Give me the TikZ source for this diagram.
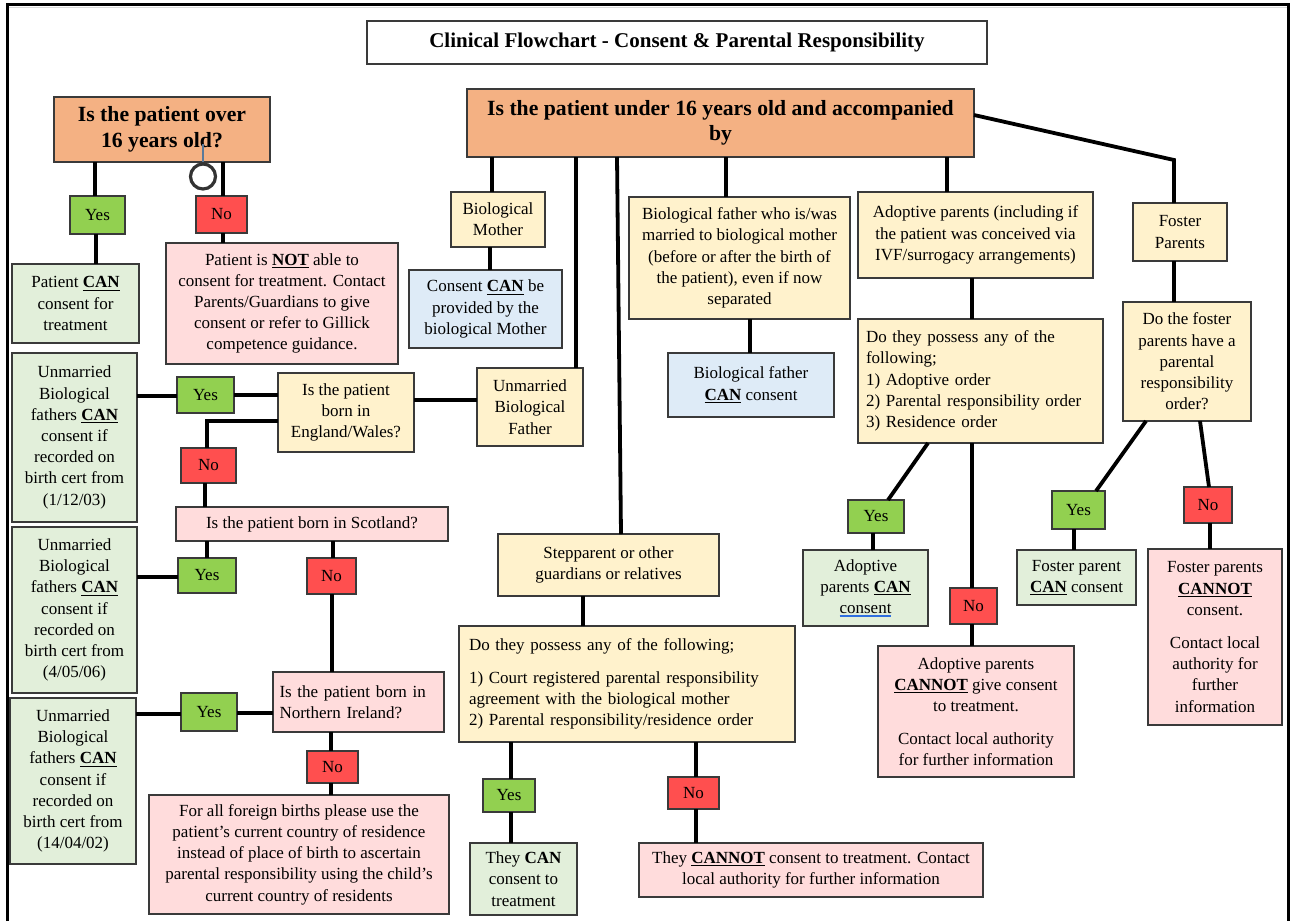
\documentclass[tikz,border=0pt]{standalone}
\usepackage{fontspec}
\setmainfont{Liberation Serif}
\usetikzlibrary{calc}
\definecolor{orangeF}{HTML}{F4B183}
\definecolor{yellowF}{HTML}{FFF2CC}
\definecolor{greenL}{HTML}{E2EFDA}
\definecolor{blueL}{HTML}{DEEBF7}
\definecolor{pinkL}{HTML}{FFDCDC}
\definecolor{greenB}{HTML}{92D050}
\definecolor{redB}{HTML}{FF4F4F}
\definecolor{borderC}{HTML}{3A3A3A}
\definecolor{ulBlue}{HTML}{2F6FE0}
\definecolor{handleC}{HTML}{5A7A9A}
\newcommand\ulwd[2]{\setbox0\hbox{#2}\leavevmode\rlap{\textcolor{#1}{\rule[-2.8pt]{\wd0}{1.1pt}}}\box0}
\newcommand\cn[1]{\textbf{\ulwd{black}{#1}}}
\newcommand\blueul[1]{\ulwd{ulBlue}{#1}}
\newcommand\bodyfont{\fontsize{17}{21.2}\selectfont}
\newcommand\headfont{\fontsize{21.7}{25.5}\selectfont\bfseries}
\newcommand\bx[7]{%
  \pgfmathsetmacro\bxw{#4-#2}%
  \pgfmathsetmacro\bxh{#5-#3}%
  \node[#6, minimum width=\bxw pt, minimum height=\bxh pt, anchor=north west] (#1) at (#2,#3) {#7};}
\tikzset{
  box/.style={draw=borderC, line width=1.3pt, inner xsep=3pt, inner ysep=1pt, align=center, font=\bodyfont, outer sep=0pt},
  qbox/.style={box, fill=orangeF, font=\headfont},
  ybox/.style={box, fill=yellowF},
  gbox/.style={box, fill=greenL},
  bbox/.style={box, fill=blueL},
  pbox/.style={box, fill=pinkL},
  yesbox/.style={box, fill=greenB},
  nobox/.style={box, fill=redB},
  conn/.style={line width=3.8pt, black}
}
\begin{document}
\begin{tikzpicture}[x=1pt,y=-1pt]
\useasboundingbox (0,0) rectangle (1295,921);
\fill[white] (0,0) rectangle (1295,921);
% page frame
\draw[gray!30, line width=1.5pt] (9,7.5) -- (1287,7.5);
\draw[line width=3pt] (7.5,921) -- (7.5,4) -- (1288.5,4) -- (1288.5,921);

% title
\bx{title}{367}{21}{987}{64}{box, font=\fontsize{21}{24}\selectfont\bfseries}{Clinical Flowchart - Consent \& Parental Responsibility}

% top-level questions
\bx{q16}{54}{97}{270}{162}{qbox}{Is the patient over\\16 years old?}
\bx{big}{467}{89}{974}{157}{qbox}{Is the patient under 16 years old and accompanied\\by}

% over 16 branch
\bx{yes1}{70}{196}{125}{234}{yesbox}{Yes}
\bx{no1}{196}{196}{247}{233}{nobox}{No}
\bx{can1}{12}{264}{139}{343}{gbox}{Patient \cn{CAN}\\consent for\\treatment}
\bx{notable}{166}{243}{398}{364}{pbox}{Patient is \cn{NOT} able to\\consent for treatment. Contact\\Parents/Guardians to give\\consent or refer to Gillick\\competence guidance.}

% selection handle artefact
\draw[handleC, line width=1.2pt] (203,144) -- (203,162);
\draw[black!80, line width=3.2pt] (203,176.5) circle (12.5pt);

% biological mother
\bx{mother}{451}{192}{545}{247}{ybox}{Biological\\Mother}
\bx{mcan}{409}{270}{562}{348}{bbox}{Consent \cn{CAN} be\\provided by the\\biological Mother}

% married father
\bx{married}{629}{197}{850}{319}{ybox}{Biological father who is/was\\married to biological mother\\(before or after the birth of\\the patient), even if now\\separated}
\bx{fcan}{668}{353}{834}{417}{bbox}{Biological father\\\cn{CAN} consent}

% adoptive
\bx{adopt}{858}{192}{1093}{278}{ybox}{Adoptive parents (including if\\the patient was conceived via\\IVF/surrogacy arrangements)}
\bx{adq}{858}{319}{1103}{443}{ybox, align=left, text width=229pt}{Do they possess any of the\\following;\\1) Adoptive order\\2) Parental responsibility order\\3) Residence order}
\bx{ayes}{848}{500}{904}{533}{yesbox}{Yes}
\bx{acan}{803}{550}{928}{626}{gbox}{Adoptive\\parents \cn{CAN}\\\blueul{consent}}
\bx{ano}{950}{588}{997}{624}{nobox}{No}
\bx{acannot}{878}{646}{1074}{777}{pbox}{Adoptive parents\\\cn{CANNOT} give consent\\to treatment.\\[11pt]Contact local authority\\for further information}

% foster
\bx{foster}{1133}{203}{1227}{261}{ybox}{Foster\\Parents}
\bx{fq}{1123}{302}{1251}{421}{ybox}{Do the foster\\parents have a\\parental\\responsibility\\order?}
\bx{fyes}{1052}{491}{1105}{529}{yesbox}{Yes}
\bx{fcan2}{1017}{550}{1136}{605}{gbox}{Foster parent\\\cn{CAN} consent}
\bx{fno}{1184}{487}{1232}{523}{nobox}{No}
\bx{fcannot}{1148}{549}{1282}{725}{pbox}{Foster parents\\\cn{CANNOT}\\consent.\\[12pt]Contact local\\authority for\\further\\information}

% unmarried father
\bx{ubf}{477}{368}{583}{446}{ybox}{Unmarried\\Biological\\Father}
\bx{eng}{278}{373}{414}{452}{ybox}{Is the patient\\born in\\England/Wales?}
\bx{eyes}{177}{377}{234}{413}{yesbox}{Yes}
\bx{ucan1}{12}{353}{137}{522}{gbox}{Unmarried\\Biological\\fathers \cn{CAN}\\consent if\\recorded on\\birth cert from\\(1/12/03)}
\bx{eno}{181}{448}{236}{483}{nobox}{No}
\bx{scot}{176}{507}{448}{541}{pbox}{Is the patient born in Scotland?}
\bx{syes}{178}{558}{236}{593}{yesbox}{Yes}
\bx{ucan2}{12}{527}{137}{693}{gbox}{Unmarried\\Biological\\fathers \cn{CAN}\\consent if\\recorded on\\birth cert from\\(4/05/06)}
\bx{sno}{307}{558}{356}{594}{nobox}{No}
\bx{ni}{273}{672}{444}{732}{pbox, align=left, text width=158pt}{Is the patient born in\\Northern Ireland?}
\bx{nyes}{181}{693}{237}{731}{yesbox}{Yes}
\bx{ucan3}{10}{698}{136}{864}{gbox}{Unmarried\\Biological\\fathers \cn{CAN}\\consent if\\recorded on\\birth cert from\\(14/04/02)}
\bx{nno}{307}{751}{358}{783}{nobox}{No}
\bx{foreign}{149}{795}{449}{914}{pbox}{For all foreign births please use the\\patient’s current country of residence\\instead of place of birth to ascertain\\parental responsibility using the child’s\\current country of residents}

% stepparent
\bx{step}{498}{534}{719}{596}{ybox}{Stepparent or other\\guardians or relatives}
\bx{stepq}{459}{626}{795}{742}{ybox, align=left, text width=316pt}{Do they possess any of the following;\\[11pt]1) Court registered parental responsibility\\agreement with the biological mother\\2) Parental responsibility/residence order}
\bx{syes2}{483}{779}{535}{812}{yesbox}{Yes}
\bx{tcan}{470}{843}{577}{915}{gbox}{They \textbf{CAN}\\consent to\\treatment}
\bx{sno2}{668}{777}{719}{809}{nobox}{No}
\bx{tcannot}{639}{843}{983}{897}{pbox}{They \cn{CANNOT} consent to treatment. Contact\\local authority for further information}

% ---------- connectors ----------
\draw[conn] (q16.south -| 95,0) -- (yes1.north -| 95,0);
\draw[conn] (yes1.south -| 96,0) -- (can1.north -| 96,0);
\draw[conn] (q16.south -| 223,0) -- (no1.north -| 223,0);
\draw[conn] (no1.south -| 223,0) -- (notable.north -| 223,0);

\draw[conn] (big.south -| 492,0) -- (mother.north -| 492,0);
\draw[conn] (mother.south -| 490,0) -- (mcan.north -| 490,0);
\draw[conn] (big.south -| 576,0) -- (ubf.north -| 576,0);
\draw[conn] (big.south -| 617,0) -- (step.north -| 621,0);
\draw[conn] (big.south -| 726,0) -- (married.north -| 726,0);
\draw[conn] (married.south -| 750,0) -- (fcan.north -| 750,0);
\draw[conn] (big.south -| 947,0) -- (adopt.north -| 947,0);
\draw[conn] (big.east |- 0,115) -- (1174,160) -- (foster.north -| 1174,0);

\draw[conn] (adopt.south -| 972,0) -- (adq.north -| 972,0);
\draw[conn] (adq.south -| 928,0) -- (ayes.north -| 888,0);
\draw[conn] (ayes.south -| 873,0) -- (acan.north -| 873,0);
\draw[conn] (adq.south -| 972,0) -- (ano.north -| 972,0);
\draw[conn] (ano.south -| 972,0) -- (acannot.north -| 972,0);

\draw[conn] (foster.south -| 1174,0) -- (fq.north -| 1174,0);
\draw[conn] (fq.south -| 1146,0) -- (fyes.north -| 1096,0);
\draw[conn] (fyes.south -| 1074,0) -- (fcan2.north -| 1074,0);
\draw[conn] (fq.south -| 1200,0) -- (fno.north -| 1209,0);
\draw[conn] (fno.south -| 1210,0) -- (fcannot.north -| 1210,0);

\draw[conn] (ubf.west |- 0,400) -- (eng.east |- 0,400);
\draw[conn] (eng.west |- 0,395) -- (eyes.east |- 0,395);
\draw[conn] (eyes.west |- 0,396) -- (ucan1.east |- 0,396);
\draw[conn] (eng.west |- 0,421) -- (207,421) -- (eno.north -| 207,0);
\draw[conn] (eno.south -| 205,0) -- (scot.north -| 205,0);
\draw[conn] (scot.south -| 207,0) -- (syes.north -| 207,0);
\draw[conn] (syes.west |- 0,577) -- (ucan2.east |- 0,577);
\draw[conn] (scot.south -| 333,0) -- (sno.north -| 333,0);
\draw[conn] (sno.south -| 332,0) -- (ni.north -| 332,0);
\draw[conn] (ni.west |- 0,713) -- (nyes.east |- 0,713);
\draw[conn] (nyes.west |- 0,714) -- (ucan3.east |- 0,714);
\draw[conn] (ni.south -| 331,0) -- (nno.north -| 331,0);
\draw[conn] (nno.south -| 331,0) -- (foreign.north -| 331,0);

\draw[conn] (step.south -| 583,0) -- (stepq.north -| 583,0);
\draw[conn] (stepq.south -| 511,0) -- (syes2.north -| 511,0);
\draw[conn] (syes2.south -| 511,0) -- (tcan.north -| 511,0);
\draw[conn] (stepq.south -| 696,0) -- (sno2.north -| 696,0);
\draw[conn] (sno2.south -| 696,0) -- (tcannot.north -| 696,0);
\end{tikzpicture}
\end{document}
